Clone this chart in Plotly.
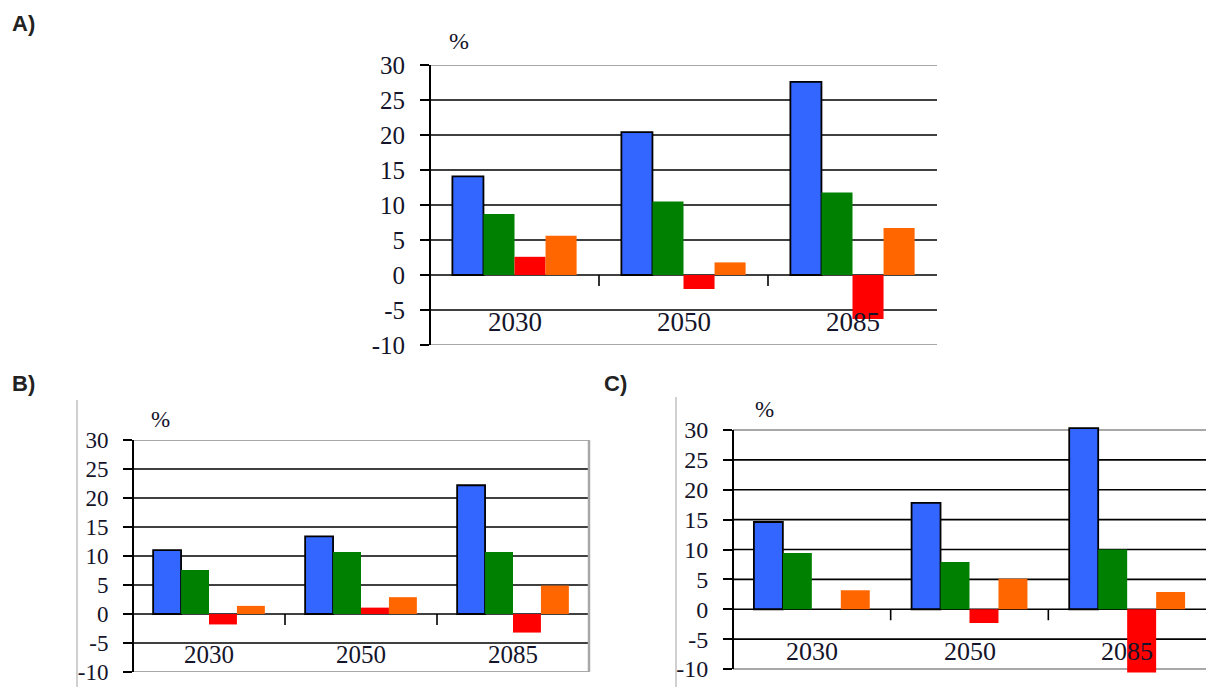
import plotly.graph_objects as go

# ---- data -------------------------------------------------------------
years = ["2030", "2050", "2085"]

a_blue = [14.1, 20.4, 27.6]
a_green = [8.7, 10.5, 11.8]
a_red = [2.6, -2.0, -6.3]
a_orange = [5.6, 1.8, 6.7]

b_blue = [11.0, 13.4, 22.2]
b_green = [7.6, 10.7, 10.7]
b_red = [-1.8, 1.1, -3.2]
b_orange = [1.4, 2.9, 4.9]

c_blue = [14.6, 17.8, 30.3]
c_green = [9.4, 7.9, 10.0]
c_red = [0.0, -2.3, -10.6]
c_orange = [3.2, 5.1, 2.9]

y_ticks = [30, 25, 20, 15, 10, 5, 0, -5, -10]
y_tick_text = ["30", "25", "20", "15", "10", "5", "0", "-5", "-10"]

# ---- styling ----------------------------------------------------------
W, H = 1206, 687
COLORS = ["#3366FF", "#008000", "#FF0000", "#FF6600"]
SERIF = "Liberation Serif"
TXT = "#14142a"


def px_x(p):
    return p / W


def px_y(p):
    return 1 - p / H


# pixel frame of each panel: y pixel of the 30 line and of the -10 line,
# plus any headroom/footroom beyond them (in data units)
panels = [
    dict(series=[a_blue, a_green, a_red, a_orange],
         x0=430, x1=937, p30=65, pm10=345, extra_top=0.0, extra_bot=0.0,
         tick_size=25, cat_size=27, cat_y=-6.7,
         pct=(459, 41), pct_size=24, border=False),
    dict(series=[b_blue, b_green, b_red, b_orange],
         x0=133, x1=589, p30=440, pm10=672, extra_top=0.0, extra_bot=0.0,
         tick_size=23, cat_size=25, cat_y=-7.0,
         pct=(160, 419), pct_size=23, border=True),
    dict(series=[c_blue, c_green, c_red, c_orange],
         x0=733, x1=1206, p30=430, pm10=669, extra_top=0.6, extra_bot=0.7,
         tick_size=24, cat_size=26, cat_y=-7.0,
         pct=(764, 409), pct_size=23, border=False),
]

fig = go.Figure()
shapes = []
annotations = []

for i, p in enumerate(panels, start=1):
    xa = "x" if i == 1 else f"x{i}"
    ya = "y" if i == 1 else f"y{i}"
    for k, vals in enumerate(p["series"]):
        fig.add_trace(go.Bar(
            x=years, y=vals, xaxis=xa, yaxis=ya,
            marker=dict(color=COLORS[k],
                        line=dict(color="#000000", width=1.8 if k == 0 else 0)),
            showlegend=False, hoverinfo="x+y",
        ))

    unit_px = (p["pm10"] - p["p30"]) / 40.0
    top_px = p["p30"] - p["extra_top"] * unit_px
    bot_px = p["pm10"] + p["extra_bot"] * unit_px
    yr = [-10 - p["extra_bot"], 30 + p["extra_top"]]

    xkey = "xaxis" if i == 1 else f"xaxis{i}"
    ykey = "yaxis" if i == 1 else f"yaxis{i}"
    fig.update_layout({
        xkey: dict(domain=[px_x(p["x0"]), px_x(p["x1"])], anchor=ya,
                   type="category", range=[-0.5, 2.5], showgrid=False,
                   zeroline=False, showline=False, showticklabels=False,
                   ticks="", automargin=False),
        ykey: dict(domain=[px_y(bot_px), px_y(top_px)], anchor=xa,
                   range=yr, showgrid=False, zeroline=False, automargin=False,
                   showline=False, tickmode="array", tickvals=y_ticks,
                   ticktext=y_tick_text, ticks="outside", ticklen=9,
                   tickwidth=1.6, tickcolor="#000000", ticklabelstandoff=10,
                   tickfont=dict(family=SERIF, size=p["tick_size"], color=TXT)),
    })

    xd = f"{xa} domain"
    # horizontal grid lines: grey at the frame edges, black inside
    for v in y_ticks:
        edge = v in (30, -10)
        shapes.append(dict(type="line", xref=xd, yref=ya, x0=0, x1=1, y0=v, y1=v,
                           line=dict(color="#a8a8a8" if edge else "#000000",
                                     width=2 if edge else 1.6),
                           layer="below"))
    if p["border"]:
        shapes.append(dict(type="line", xref=xd, yref=ya, x0=1, x1=1, y0=-10, y1=30,
                           line=dict(color="#a8a8a8", width=2.5), layer="below"))
    # value axis line
    shapes.append(dict(type="line", xref=xd, yref=ya, x0=0, x1=0, y0=-10, y1=30,
                       line=dict(color="#000000", width=2), layer="above"))
    # category separators hanging below the zero line
    drop = 11 / unit_px
    for sep in (0.5, 1.5):
        shapes.append(dict(type="line", xref=xa, yref=ya, x0=sep, x1=sep,
                           y0=0, y1=-drop, line=dict(color="#000000", width=1.6),
                           layer="above"))
    # category labels
    for j, year in enumerate(years):
        annotations.append(dict(x=j, y=p["cat_y"], xref=xa, yref=ya, text=year,
                                showarrow=False, xanchor="center", yanchor="middle",
                                font=dict(family=SERIF, size=p["cat_size"], color=TXT)))
    # unit label
    annotations.append(dict(x=px_x(p["pct"][0]), y=px_y(p["pct"][1]), xref="paper",
                            yref="paper", text="%", showarrow=False,
                            xanchor="center", yanchor="middle",
                            font=dict(family=SERIF, size=p["pct_size"], color=TXT)))

# panel letters
for letter, (lx, ly) in {"A)": (23, 24), "B)": (23, 383), "C)": (615, 383)}.items():
    annotations.append(dict(x=px_x(lx), y=px_y(ly), xref="paper", yref="paper",
                            text=f"<b>{letter}</b>", showarrow=False,
                            xanchor="center", yanchor="middle",
                            font=dict(family="Liberation Sans", size=22,
                                      color="#222222")))

# thin frame lines on the left of the lower panels
for fx, fy in ((77, 400), (676, 397)):
    shapes.append(dict(type="line", xref="paper", yref="paper",
                       x0=px_x(fx), x1=px_x(fx), y0=px_y(fy), y1=0,
                       line=dict(color="#d0d0d0", width=2), layer="below"))

fig.update_layout(
    width=W, height=H,
    margin=dict(l=0, r=0, t=0, b=0, pad=0, autoexpand=False),
    paper_bgcolor="#ffffff", plot_bgcolor="rgba(0,0,0,0)",
    barmode="group", bargap=0.265, bargroupgap=0,
    shapes=shapes, annotations=annotations, showlegend=False,
)

fig.write_html("out.html")
